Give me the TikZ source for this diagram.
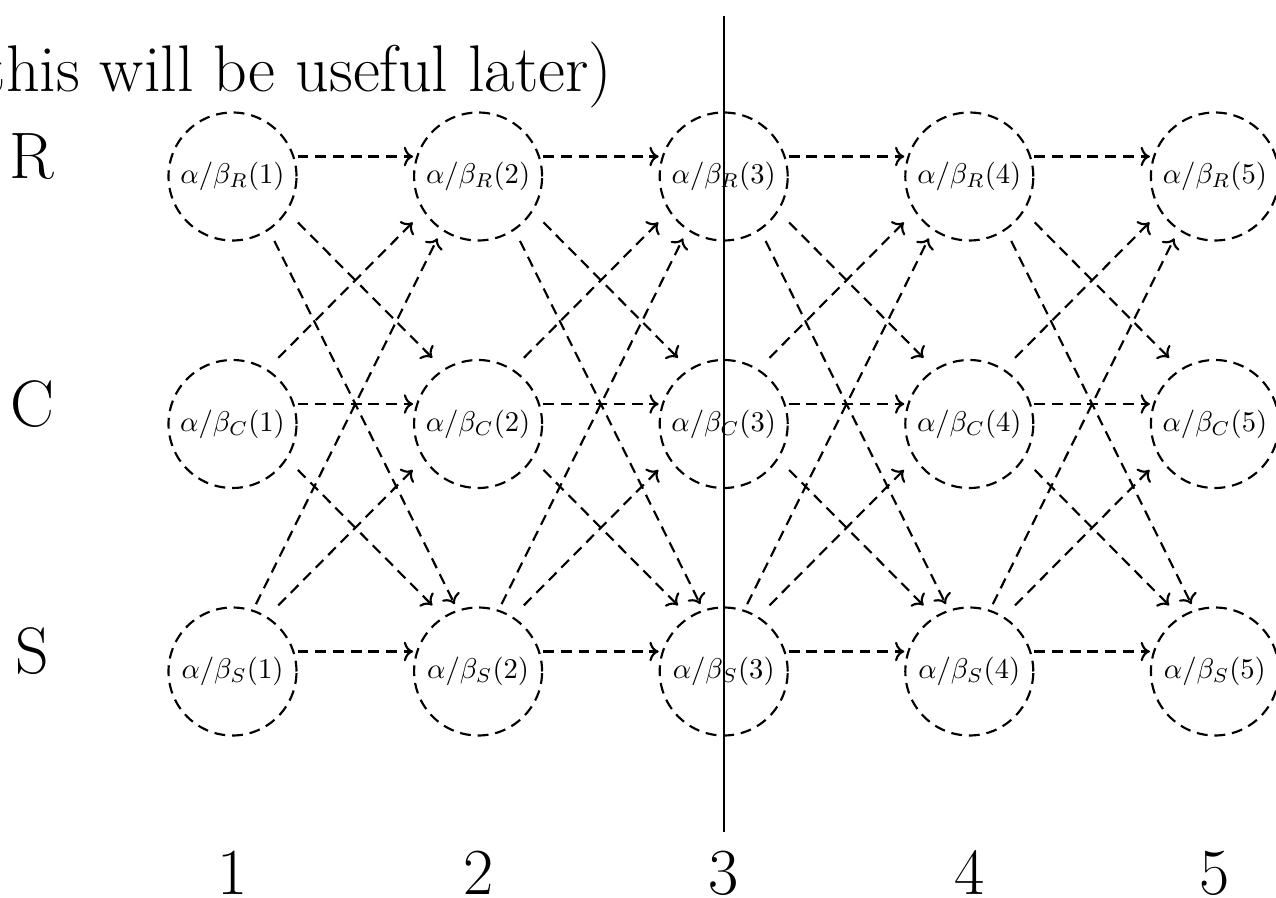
\documentclass[tikz,border=0pt]{standalone}
\usetikzlibrary{arrows.meta}
\begin{document}
\begin{tikzpicture}[x=0.35pt,y=-0.35pt,line width=0.75pt,
  state/.style={circle,draw,dash pattern=on 3.8pt off 2.4pt,minimum size=44.8pt,inner sep=0pt,font=\normalsize},
  conn/.style={->,dash pattern=on 3.8pt off 2.4pt},
  big/.style={font=\fontsize{23}{28}\selectfont,inner sep=0pt}]
\useasboundingbox (0,0) rectangle (1276,898);
\clip (0,0) rectangle (1276,898);
% header text (cut at the left)
\node[font=\fontsize{23.1}{28}\selectfont,inner sep=0pt,anchor=base east] (note) at (613,91.7) {this will be useful later)};
% row labels
\node[big] (lR) at (32,156.5) {R};
\node[big] (lC) at (32,404) {C};
\node[big] (lS) at (32,651.5) {S};
% nodes
\foreach \i/\x in {1/232.5,2/478.1,3/723.7,4/969.3,5/1214.9}{
  \node[state] (R\i) at (\x,176.5) {$\alpha/\beta_R(\i)$};
  \node[state] (C\i) at (\x,424) {$\alpha/\beta_C(\i)$};
  \node[state] (S\i) at (\x,671.5) {$\alpha/\beta_S(\i)$};
  \coordinate (pR\i) at (\x,156.5);
  \coordinate (pC\i) at (\x,404);
  \coordinate (pS\i) at (\x,651.5);
  \node[big] (t\i) at (\x,873) {\i};
}
% connectors
\foreach \i in {1,2,3,4}{
  \pgfmathtruncatemacro{\j}{\i+1}
  \draw[conn,shorten <=22.75pt,shorten >=22.75pt] (pR\i) -- (pR\j);
  \draw[conn,shorten <=22.75pt,shorten >=22.75pt] (pC\i) -- (pC\j);
  \draw[conn,shorten <=22.75pt,shorten >=22.75pt] (pS\i) -- (pS\j);
  \draw[conn,shorten <=32.5pt,shorten >=22.75pt] (pR\i) -- (pC\j);
  \draw[conn,shorten <=32.5pt,shorten >=22.75pt] (pC\i) -- (pS\j);
  \draw[conn,shorten <=22.75pt,shorten >=32.5pt] (pC\i) -- (pR\j);
  \draw[conn,shorten <=22.75pt,shorten >=32.5pt] (pS\i) -- (pC\j);
  \draw[conn,shorten <=33pt,shorten >=18.5pt] (pR\i) -- (pS\j);
  \draw[conn,shorten <=18.5pt,shorten >=32pt] (pS\i) -- (pR\j);
}
% vertical divider
\coordinate (vtop) at (723.7,16);
\coordinate (vbot) at (723.7,832);
\draw (vtop) -- (vbot);
\end{tikzpicture}
\end{document}
